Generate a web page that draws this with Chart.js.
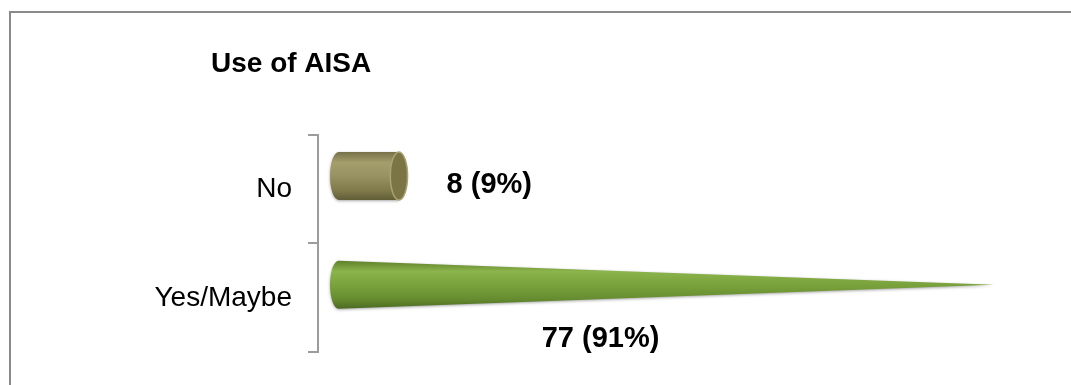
<!DOCTYPE html>
<html>
<head>
<meta charset="utf-8">
<title>Use of AISA</title>
<script src="https://cdn.jsdelivr.net/npm/chart.js@4/dist/chart.umd.min.js"></script>
<style>
  html, body { margin: 0; padding: 0; background: #fff; overflow: hidden; }
  #wrap { position: relative; width: 1071px; height: 385px; }
  #frame {
    position: absolute; left: 9px; top: 11px; width: 1200px; height: 500px;
    border-left: 2px solid #8a8a8a; border-top: 2px solid #8a8a8a;
  }
  #chart { position: absolute; left: 0; top: 0; }
</style>
</head>
<body>
<div id="wrap">
  <div id="frame"></div>
  <canvas id="chart" width="1071" height="385"></canvas>
</div>
<script>
const categories = ['No', 'Yes/Maybe'];
const counts = [8, 77];
const total = counts.reduce((a, b) => a + b, 0);
const valueLabels = counts.map(v => v + ' (' + Math.round(v / total * 100) + '%)');

const FONT = "'Liberation Sans', Arial, sans-serif";

// how each bar is drawn: shape, colours and where its label sits
const barStyles = [
  { shape: 'cylinder', label: 'right',
    stops: ['#77714a', '#a49e6c', '#989262', '#807a4b', '#615d37'], cap: '#7b7545', rim: '#a8a274' },
  { shape: 'cone', label: 'below',
    stops: ['#5f8129', '#8cb44c', '#7aa23c', '#668c30', '#4c6a22'] }
];

// title sits a bit left of the plot, independent of the axis width
const titleOffset = {
  id: 'titleOffset',
  afterLayout(chart) {
    if (chart.titleBlock) chart.titleBlock.left = chart.chartArea.left - 107;
  }
};

// pseudo 3D bars drawn on top of the (invisible) bar elements
const shapes3d = {
  id: 'shapes3d',
  afterDatasetsDraw(chart) {
    const ctx = chart.ctx;
    const meta = chart.getDatasetMeta(0);
    const dx = 12, dy = -13;
    meta.data.forEach((el, i) => {
      const st = barStyles[i];
      const h = el.height;
      const ry = h / 2, rx = h * 0.18;
      const cy = el.y + dy;
      const xl = el.base + dx + rx;
      const xr = el.x + dx;

      const g = ctx.createLinearGradient(0, cy - ry, 0, cy + ry);
      g.addColorStop(0, st.stops[0]);
      g.addColorStop(0.22, st.stops[1]);
      g.addColorStop(0.5, st.stops[2]);
      g.addColorStop(0.8, st.stops[3]);
      g.addColorStop(1, st.stops[4]);

      ctx.save();
      ctx.shadowColor = 'rgba(0,0,0,0.35)';
      ctx.shadowBlur = 3;
      ctx.shadowOffsetY = 1;
      ctx.beginPath();
      if (st.shape === 'cone') {
        ctx.moveTo(xl, cy - ry);
        ctx.lineTo(xr, cy);
        ctx.lineTo(xl, cy + ry);
        ctx.ellipse(xl, cy, rx, ry, 0, Math.PI / 2, Math.PI * 1.5);
      } else {
        ctx.moveTo(xl, cy - ry);
        ctx.lineTo(xr, cy - ry);
        ctx.lineTo(xr, cy + ry);
        ctx.lineTo(xl, cy + ry);
        ctx.ellipse(xl, cy, rx, ry, 0, Math.PI / 2, Math.PI * 1.5);
      }
      ctx.closePath();
      ctx.fillStyle = g;
      ctx.fill();
      ctx.restore();

      if (st.shape === 'cylinder') {
        ctx.save();
        ctx.beginPath();
        ctx.ellipse(xr, cy, rx, ry, 0, 0, Math.PI * 2);
        ctx.fillStyle = st.cap;
        ctx.fill();
        ctx.lineWidth = 1.5;
        ctx.strokeStyle = st.rim;
        ctx.stroke();
        ctx.restore();
      }

      // value label
      ctx.save();
      ctx.fillStyle = '#000';
      ctx.font = 'bold 29px ' + FONT;
      ctx.textBaseline = 'middle';
      if (st.label === 'right') {
        ctx.textAlign = 'left';
        ctx.fillText(valueLabels[i], xr + rx + 39, cy + 9);
      } else {
        ctx.textAlign = 'center';
        ctx.fillText(valueLabels[i], xl + (xr - xl) * 0.40, cy + 54);
      }
      ctx.restore();
    });
  }
};

new Chart(document.getElementById('chart'), {
  type: 'bar',
  data: {
    labels: categories,
    datasets: [{
      data: counts,
      backgroundColor: 'rgba(0,0,0,0)',
      borderWidth: 0,
      barPercentage: 0.44,
      categoryPercentage: 1
    }]
  },
  options: {
    indexAxis: 'y',
    responsive: false,
    animation: false,
    devicePixelRatio: 1,
    layout: { padding: { left: 120, right: 12, top: 0, bottom: 26 } },
    scales: {
      x: { display: false, min: 0, max: 86 },
      y: {
        afterFit(scale) { scale.width = 198; },
        border: { display: true, color: '#9c9c9c', width: 2 },
        grid: { display: true, drawOnChartArea: false, tickLength: 10, color: '#9c9c9c', lineWidth: 2 },
        ticks: { color: '#000', padding: 16, font: { family: FONT, size: 28 } }
      }
    },
    plugins: {
      legend: { display: false },
      tooltip: { enabled: false },
      title: {
        display: true,
        text: 'Use of AISA',
        align: 'start',
        color: '#000',
        font: { family: FONT, size: 28, weight: 'bold' },
        padding: { top: 47, bottom: 54 }
      }
    }
  },
  plugins: [titleOffset, shapes3d]
});
</script>
</body>
</html>
